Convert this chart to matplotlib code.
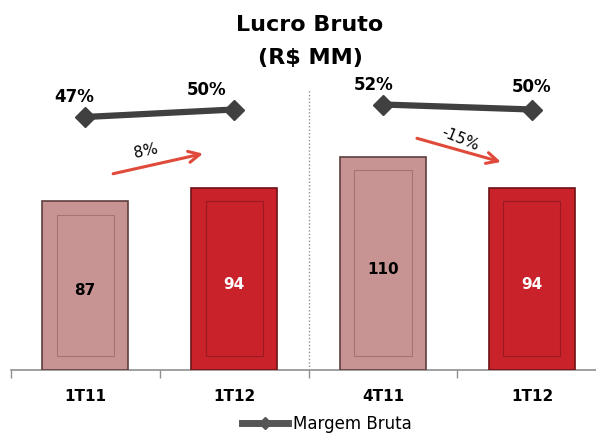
import matplotlib
matplotlib.use("Agg")
import matplotlib.pyplot as plt
from matplotlib.patches import Rectangle
from matplotlib.lines import Line2D

categories = ["1T11", "1T12", "4T11", "1T12"]
lucro = [87, 94, 110, 94]
margem = [47, 50, 52, 50]
margem_labels = ["47%", "50%", "52%", "50%"]
growth_labels = ["8%", "-15%"]

bar_colors = ["#c79393", "#c9222b", "#c79393", "#c9222b"]
edge_colors = ["#5e3e3e", "#6e1216", "#5e3e3e", "#6e1216"]
inner_colors = ["#a87272", "#9a1a20", "#a87272", "#9a1a20"]
label_colors = ["black", "white", "black", "white"]

fig = plt.figure(figsize=(5.96, 4.34), dpi=100)
ax = fig.add_axes([10.6 / 596, 64 / 434, 1 - 10.6 / 596, 370 / 434])
x = list(range(len(categories)))
width = 0.58
bars = ax.bar(x, lucro, width=width, color=bar_colors, edgecolor=edge_colors, linewidth=1.2, zorder=3)
for b, ic in zip(bars, inner_colors):
    bx, bw, bh = b.get_x(), b.get_width(), b.get_height()
    ax.add_patch(Rectangle((bx + bw * 0.17, 7), bw * 0.66, bh - 14,
                           fill=False, edgecolor=ic, linewidth=0.8, zorder=4))
for xi, v, c in zip(x, lucro, label_colors):
    ax.text(xi, v * 0.47, str(v), ha="center", va="center", fontsize=11,
            fontweight="bold", color=c, zorder=5)

ax.set_xlim(-0.5, 3.43)
ax.set_ylim(0, 191)
ax.set_xticks(x)
ax.set_xticklabels(categories, fontsize=11, fontweight="bold")
ax.set_xticks([-0.5, 0.5, 1.5, 2.5, 3.5], minor=True)
ax.tick_params(axis="x", which="major", length=0, pad=14)
ax.tick_params(axis="x", which="minor", length=6, color="#909090", width=1)
ax.set_yticks([])
for s in ["top", "right", "left"]:
    ax.spines[s].set_visible(False)
ax.spines["bottom"].set_color("#909090")
ax.spines["bottom"].set_linewidth(1.2)

# separator
ax.plot([1.5, 1.5], [0, 145], linestyle=(0, (1, 1.5)), color="#909090", linewidth=1, zorder=2)

# arrows
ax.annotate("", xy=(0.81, 112), xytext=(0.17, 101),
            arrowprops=dict(arrowstyle="->,head_length=0.8,head_width=0.4", color="#e04a3a", lw=2.2))
ax.annotate("", xy=(2.81, 107), xytext=(2.21, 120),
            arrowprops=dict(arrowstyle="->,head_length=0.8,head_width=0.4", color="#e04a3a", lw=2.2))
ax.text(0.41, 113, growth_labels[0], rotation=12, ha="center", va="center", fontsize=11)
ax.text(2.52, 119, growth_labels[1], rotation=-22, ha="center", va="center", fontsize=11)

# margin line on twin axis
ax2 = ax.twinx()
ax2.set_ylim(-54.2, 93.8)
ax2.axis("off")
ax2.set_xlim(-0.5, 3.43)
line_kw = dict(color="#404040", linewidth=4.5, marker="D", markersize=10, solid_capstyle="butt")
ax2.plot(x[0:2], margem[0:2], **line_kw)
ax2.plot(x[2:4], margem[2:4], **line_kw)
offsets = [(-8, 14.4), (-20, 13.7), (-6.5, 14.4), (0, 16)]
for xi, m, lab, off in zip(x, margem, margem_labels, offsets):
    ax2.annotate(lab, (xi, m), xytext=off, textcoords="offset points",
                 ha="center", va="center", fontsize=12, fontweight="bold")

fig.text(310 / 596, 1 - 25 / 434, "Lucro Bruto", ha="center", va="center", fontsize=16, fontweight="bold")
fig.text(310 / 596, 1 - 58 / 434, "(R$ MM)", ha="center", va="center", fontsize=16, fontweight="bold")

handle = Line2D([], [], color="#555555", linewidth=5, marker="D", markersize=6)
fig.legend([handle], ["Margem Bruta"], loc="center", bbox_to_anchor=(327 / 596, 1 - 424 / 434),
           frameon=False, fontsize=12, handlelength=2.8, handletextpad=0.3)

fig.savefig("out.png", dpi=100)
